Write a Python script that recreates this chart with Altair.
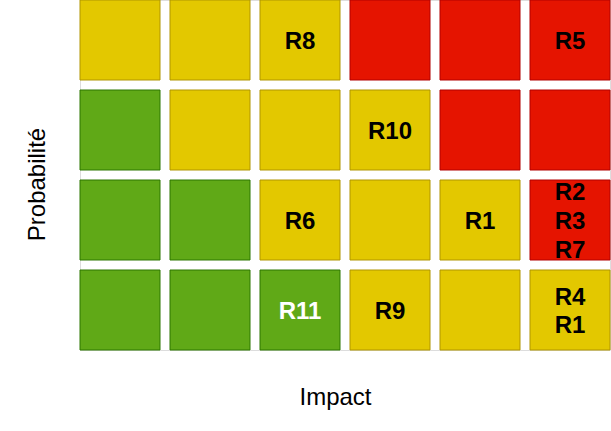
import altair as alt
import pandas as pd

impact_levels = [1, 2, 3, 4, 5, 6]
probability_levels = [4, 3, 2, 1]

# risk level per cell, rows from highest probability (4) to lowest (1)
grid_levels = [
    ["moyen", "moyen", "moyen", "élevé", "élevé", "élevé"],
    ["faible", "moyen", "moyen", "moyen", "élevé", "élevé"],
    ["faible", "faible", "moyen", "moyen", "moyen", "élevé"],
    ["faible", "faible", "faible", "moyen", "moyen", "moyen"],
]

label_impact = [3, 6, 4, 3, 5, 6, 3, 4, 6]
label_probability = [4, 4, 3, 2, 2, 2, 1, 1, 1]
label_text = [["R8"], ["R5"], ["R10"], ["R6"], ["R1"], ["R2", "R3", "R7"], ["R11"], ["R9"], ["R4", "R1"]]
label_white = [False, False, False, False, False, False, True, False, False]

level_names = ["faible", "moyen", "élevé"]
fill_colors = ["#60a917", "#e3c800", "#e51400"]
stroke_colors = ["#2d7600", "#b09500", "#b20000"]

LINE_HEIGHT = 28.8
CELL = 80  # band width in px (step 90, inner padding 10)

rows = []
for r, p in enumerate(probability_levels):
    for c, i in enumerate(impact_levels):
        rows.append({"impact": i, "probabilite": p, "niveau": grid_levels[r][c]})
cells = pd.DataFrame(rows)

labels = pd.DataFrame({
    "impact": label_impact,
    "probabilite": label_probability,
    "texte": label_text,
    "blanc": ["oui" if w else "non" for w in label_white],
})

x_enc = alt.X(
    "impact:O",
    scale=alt.Scale(domain=impact_levels, paddingInner=1 / 9, paddingOuter=0),
    axis=alt.Axis(
        title="Impact", labels=False, ticks=False, domain=False,
        titleFontSize=24, titleFontWeight="normal", titleFont="Liberation Sans",
        titleColor="#000000", titleX=255, titleY=47, titleBaseline="middle",
        titleAnchor="start", titleAlign="center",
    ),
)
y_enc = alt.Y(
    "probabilite:O",
    scale=alt.Scale(domain=probability_levels, paddingInner=1 / 9, paddingOuter=0),
    axis=alt.Axis(
        title="Probabilité", labels=False, ticks=False, domain=False,
        titleFontSize=24, titleFontWeight="normal", titleFont="Liberation Sans",
        titleColor="#000000", titleX=-43, titleY=184, titleBaseline="middle",
        titleAngle=270, titleAlign="center", titleAnchor="start",
    ),
)

rects = alt.Chart(cells).mark_rect(strokeWidth=1).encode(
    x=x_enc,
    y=y_enc,
    fill=alt.Fill("niveau:N", scale=alt.Scale(domain=level_names, range=fill_colors), legend=None),
    stroke=alt.Stroke("niveau:N", scale=alt.Scale(domain=level_names, range=stroke_colors), legend=None),
)

texts = alt.Chart(labels).transform_calculate(
    decalage=f"{CELL / 2} - (length(datum.texte) - 1) * {LINE_HEIGHT / 2}"
).mark_text(
    fontSize=24, fontWeight="bold", font="Liberation Sans",
    lineHeight=LINE_HEIGHT, baseline="middle", align="center", dy=2,
).encode(
    x=alt.X("impact:O"),
    y=alt.Y("probabilite:O"),
    yOffset=alt.YOffset("decalage:Q", scale=None),
    text="texte",
    color=alt.Color("blanc:N", scale=alt.Scale(domain=["non", "oui"], range=["#000000", "#ffffff"]), legend=None),
)

chart = alt.layer(rects, texts).resolve_scale(color="independent").properties(
    width=530, height=350,
    padding={"left": 80, "top": 0, "right": 1, "bottom": 81},
    autosize=alt.AutoSizeParams(type="none"),
).configure_view(stroke=None).configure(background="#ffffff")

chart.save("out.html", embed_options={"renderer": "svg", "actions": False})
